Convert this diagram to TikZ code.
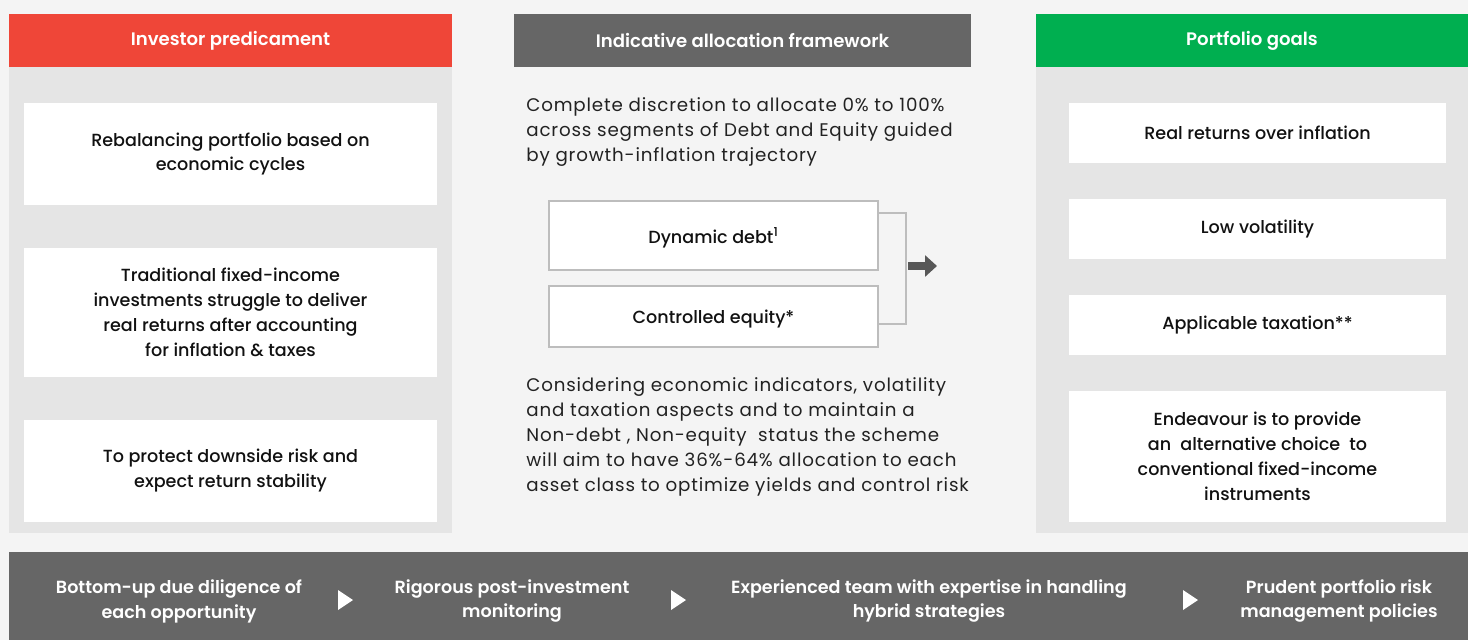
\documentclass[tikz,border=0pt]{standalone}
\usepackage{fontspec}
\setmainfont{Poppins}
\newfontfamily\medfont{Poppins Medium}
\newfontfamily\semifont{Poppins SemiBold}
\newfontfamily\widefont{Poppins}[LetterSpace=4.5]
\usetikzlibrary{positioning, calc, arrows.meta}

\definecolor{pagebg}{HTML}{F4F4F4}
\definecolor{panelgrey}{HTML}{E5E5E5}
\definecolor{predred}{HTML}{EF4638}
\definecolor{goalgreen}{HTML}{00AF50}
\definecolor{slate}{HTML}{666666}
\definecolor{rulegrey}{HTML}{BDBDBD}
\definecolor{inkblack}{HTML}{111111}
\definecolor{inkgrey}{HTML}{222222}

\tikzset{
  colhead/.style={rectangle, inner sep=0pt, minimum height=1.06cm, text=white, font=\semifont\fontsize{10.3}{14}\selectfont},
  panel/.style={rectangle, inner sep=0pt, fill=panelgrey, minimum height=9.32cm},
  card/.style={rectangle, inner sep=0pt, fill=white, align=center, text=inkblack, font=\medfont\fontsize{10}{14.2}\selectfont},
  blurb/.style={anchor=west, align=left, inner sep=0pt, text=inkgrey, font=\widefont\fontsize{10.4}{14.2}\selectfont},
  choice/.style={rectangle, inner sep=0pt, draw=rulegrey, line width=1pt, fill=white, minimum width=6.58cm, text depth=0pt, text=inkblack, font=\medfont\fontsize{10}{14.2}\selectfont},
  stepnote/.style={align=center, inner sep=0pt, text=white, font=\semifont\fontsize{10}{14.2}\selectfont}
}

\begin{document}
\begin{tikzpicture}[x=0.02cm, y=-0.02cm]
\useasboundingbox (0,0) rectangle (1468,640);
\fill[pagebg] (0,0) rectangle (1468,640);

% investor side
\node[panel, minimum width=8.86cm] (leftbody) at (230.5,300) {};
\node[colhead, fill=predred, minimum width=8.86cm] (lefthead) at (230.5,40.5) {Investor predicament};
\node[card, minimum width=8.26cm, minimum height=2.04cm] (need1) at (230.5,154) {Rebalancing portfolio based on\\economic cycles};
\node[card, minimum width=8.26cm, minimum height=2.58cm] (need2) at (230.5,312.5) {Traditional fixed-income\\investments struggle to deliver\\real returns after accounting\\for inflation \& taxes};
\node[card, minimum width=8.26cm, minimum height=2.04cm] (need3) at (230.5,471) {To protect downside risk and\\expect return stability};

% framework
\node[colhead, fill=slate, minimum width=9.14cm] (midhead) at (742.5,40) {Indicative allocation framework};
\node[blurb] (scope) at (526,132) {Complete discretion to allocate 0\% to 100\%\\across segments of Debt and Equity guided\\by growth-inflation trajectory};
\node[choice, minimum height=1.38cm] (debt) at (713.5,235.5) {Dynamic debt\textsuperscript{1}};
\node[choice, minimum height=1.22cm] (equity) at (713.5,316.5) {Controlled equity*};
\node[blurb] (rule) at (526,437) {Considering economic indicators, volatility\\and taxation aspects and to maintain a\\Non-debt , Non-equity\ \ status the scheme\\will aim to have 36\%-64\% allocation to each\\asset class to optimize yields and control risk};

\coordinate (hi) at ($(debt.north east)+(0,13)$);
\coordinate (lo) at ($(equity.south east)+(0,-24)$);
\coordinate (join) at (906,266);
\coordinate (out) at (937,266);
\draw[rulegrey, line width=1pt] (hi) -| (join |- lo) -- (lo);
\draw[slate!85!black, line width=4.5pt, -{Triangle[length=0.24cm, width=0.42cm]}] ($(join)+(2,0)$) -- (out);

% goals
\node[panel, minimum width=8.64cm] (rightbody) at (1252,300) {};
\node[colhead, fill=goalgreen, minimum width=8.64cm] (righthead) at (1252,40.5) {Portfolio goals};
\node[card, minimum width=7.54cm, minimum height=1.2cm] (goal1) at (1257.5,133) {Real returns over inflation};
\node[card, minimum width=7.54cm, minimum height=1.2cm] (goal2) at (1257.5,229) {Low volatility};
\node[card, minimum width=7.54cm, minimum height=1.2cm] (goal3) at (1257.5,325) {Applicable taxation**};
\node[card, minimum width=7.54cm, minimum height=2.62cm] (goal4) at (1257.5,456.5) {Endeavour is to provide\\an\ \ alternative choice\ \ to\\conventional fixed-income\\instruments};

% process band
\node[rectangle, inner sep=0pt, fill=slate, minimum width=29.18cm, minimum height=1.76cm] (band) at (738.5,596) {};
\node[stepnote] (s1) at (179,601) {Bottom-up due diligence of\\each opportunity};
\node[stepnote] (s2) at (512,601) {Rigorous post-investment\\monitoring};
\node[stepnote] (s3) at (929,601) {Experienced team with expertise in handling\\hybrid strategies};
\node[stepnote] (s4) at (1339,601) {Prudent portfolio risk\\management policies};
\foreach \tx in {345,678,1190}
  \fill[white] (\tx-7,590) -- (\tx+8,600) -- (\tx-7,610) -- cycle;
\end{tikzpicture}
\end{document}
